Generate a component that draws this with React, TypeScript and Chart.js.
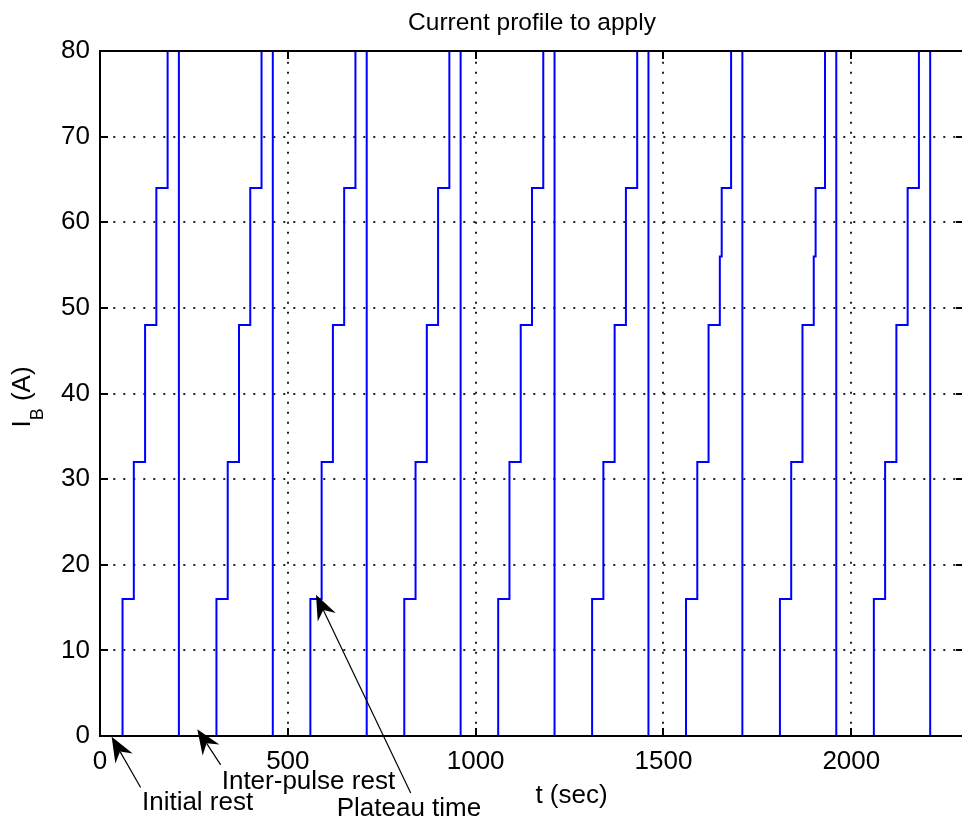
import React, { useEffect, useRef } from "react";
import { Chart, registerables } from "chart.js";

Chart.register(...registerables);

const FONT = '"Liberation Sans", Arial, Helvetica, sans-serif';

// Breakpoints of the applied current profile (stairs: value holds until the next time)
const stepTimes = [
  0,
  60, 90, 120, 150, 180, 210,
  310, 340, 370, 400, 430, 460,
  560, 590, 620, 650, 680, 710,
  810, 840, 870, 900, 930, 960,
  1060, 1090, 1120, 1150, 1180, 1210,
  1310, 1340, 1370, 1400, 1430, 1460,
  1560, 1590, 1620, 1650, 1655, 1680, 1710,
  1810, 1840, 1870, 1900, 1905, 1930, 1960,
  2060, 2090, 2120, 2150, 2180, 2210,
  2300,
];
const stepCurrents = [
  0,
  16, 32, 48, 64, 80, 0,
  16, 32, 48, 64, 80, 0,
  16, 32, 48, 64, 80, 0,
  16, 32, 48, 64, 80, 0,
  16, 32, 48, 64, 80, 0,
  16, 32, 48, 64, 80, 0,
  16, 32, 48, 56, 64, 80, 0,
  16, 32, 48, 56, 64, 80, 0,
  16, 32, 48, 64, 80, 0,
  0,
];

const xTicks = [0, 500, 1000, 1500, 2000];
const yTicks = [0, 10, 20, 30, 40, 50, 60, 70, 80];
const xMax = 2300;
const yMax = 80;

const titleText = "Current profile to apply";
const xLabelText = "t (sec)";

// Annotation callouts: arrow tip placed at (time, current)
const noteTexts = ["Initial rest", "Inter-pulse rest", "Plateau time"];
const noteTipTimes = [31, 259, 575];
const noteTipCurrents = [-0.1, 0.8, 16.5];

// Pixel offsets (from the arrow tip) of arrow tails and text anchors
const noteLayout = [
  { tail: [29, 50.7], text: [30.3, 73] },
  { tail: [23.4, 35.7], text: [24.4, 59.5] },
  { tail: [94.7, 198.3], text: [20.7, 221] },
];

const TICK_LEN = 8;

function drawArrow(ctx: CanvasRenderingContext2D, tipX: number, tipY: number, tailX: number, tailY: number) {
  const dx = tailX - tipX;
  const dy = tailY - tipY;
  const len = Math.hypot(dx, dy);
  const ux = dx / len;
  const uy = dy / len;
  const nx = -uy;
  const ny = ux;
  const L = 25;
  const W = 10;
  const N = 17;
  ctx.lineWidth = 1.2;
  ctx.beginPath();
  ctx.moveTo(tailX, tailY);
  ctx.lineTo(tipX + ux * N, tipY + uy * N);
  ctx.stroke();
  ctx.beginPath();
  ctx.moveTo(tipX, tipY);
  ctx.lineTo(tipX + ux * L + nx * W, tipY + uy * L + ny * W);
  ctx.lineTo(tipX + ux * N, tipY + uy * N);
  ctx.lineTo(tipX + ux * L - nx * W, tipY + uy * L - ny * W);
  ctx.closePath();
  ctx.fill();
}

const matlabAxes = {
  id: "matlabAxes",
  afterDatasetsDraw(chart: any) {
    const { ctx, chartArea: a, scales } = chart;
    const xs = scales.x;
    const ys = scales.y;
    ctx.save();
    ctx.strokeStyle = "#000";
    ctx.fillStyle = "#000";

    // axes box
    ctx.lineWidth = 2;
    ctx.strokeRect(a.left, a.top, a.right - a.left, a.bottom - a.top);

    // inward tick marks on all four sides
    ctx.beginPath();
    for (const t of xs.ticks) {
      const px = Math.round(xs.getPixelForValue(t.value));
      ctx.moveTo(px, a.bottom);
      ctx.lineTo(px, a.bottom - TICK_LEN);
      ctx.moveTo(px, a.top);
      ctx.lineTo(px, a.top + TICK_LEN);
    }
    for (const t of ys.ticks) {
      const py = Math.round(ys.getPixelForValue(t.value));
      ctx.moveTo(a.left, py);
      ctx.lineTo(a.left + TICK_LEN, py);
      ctx.moveTo(a.right, py);
      ctx.lineTo(a.right - TICK_LEN, py);
    }
    ctx.stroke();

    // x label
    ctx.font = `26px ${FONT}`;
    ctx.textAlign = "center";
    ctx.textBaseline = "alphabetic";
    ctx.fillText(xLabelText, a.left + 471.5, 803);

    // y label: I with subscript B
    ctx.save();
    ctx.translate(30, (a.top + a.bottom) / 2 + 3.5);
    ctx.rotate(-Math.PI / 2);
    ctx.textAlign = "left";
    const big = `26px ${FONT}`;
    const small = `18px ${FONT}`;
    ctx.font = big;
    const wI = ctx.measureText("I").width;
    const wRest = ctx.measureText(" (A)").width;
    ctx.font = small;
    const wB = ctx.measureText("B").width;
    const x0 = -(wI + wB + wRest) / 2;
    ctx.font = big;
    ctx.fillText("I", x0, 0);
    ctx.font = small;
    ctx.fillText("B", x0 + wI, 13);
    ctx.font = big;
    ctx.fillText(" (A)", x0 + wI + wB, 0);
    ctx.restore();

    // callouts
    ctx.font = `26px ${FONT}`;
    ctx.textAlign = "left";
    noteTexts.forEach((txt, i) => {
      const tipX = xs.getPixelForValue(noteTipTimes[i]);
      const tipY = ys.getPixelForValue(noteTipCurrents[i]);
      const lay = noteLayout[i];
      drawArrow(ctx, tipX, tipY, tipX + lay.tail[0], tipY + lay.tail[1]);
      ctx.fillText(txt, tipX + lay.text[0], tipY + lay.text[1]);
    });

    ctx.restore();
  },
};

export default function App() {
  const ref = useRef<HTMLCanvasElement>(null);

  useEffect(() => {
    const canvas = ref.current;
    if (!canvas) return;
    const tickFont = { family: FONT, size: 26, weight: "normal" as const };
    const chart = new Chart(canvas, {
      type: "line",
      data: {
        datasets: [
          {
            data: stepTimes.map((t, i) => ({ x: t, y: stepCurrents[i] })),
            borderColor: "#0000ff",
            borderWidth: 2,
            pointRadius: 0,
            stepped: true,
            fill: false,
          },
        ],
      },
      options: {
        animation: false,
        responsive: false,
        devicePixelRatio: 1,
        events: [],
        layout: { padding: { left: 0, right: 2, top: 0, bottom: 0 } },
        plugins: {
          legend: { display: false },
          tooltip: { enabled: false },
          title: {
            display: true,
            fullSize: false,
            text: titleText,
            color: "#000",
            font: { family: FONT, size: 24.5, weight: "normal" },
            padding: { top: 8.5, bottom: 51 - 8.5 - 24.5 * 1.2 },
          },
        },
        scales: {
          x: {
            type: "linear",
            min: 0,
            max: xMax,
            afterBuildTicks: (s: any) => {
              s.ticks = xTicks.map((v) => ({ value: v }));
            },
            ticks: {
              autoSkip: false,
              maxRotation: 0,
              color: "#000",
              font: tickFont,
              padding: 10,
              callback: (v: any) => String(v),
            },
            grid: { color: "#222", lineWidth: 2, drawTicks: false },
            border: { display: false, dash: [2, 8], dashOffset: 9.3 },
            afterFit: (s: any) => {
              s.height = 83;
            },
          },
          y: {
            type: "linear",
            min: 0,
            max: yMax,
            afterBuildTicks: (s: any) => {
              s.ticks = yTicks.map((v) => ({ value: v }));
            },
            ticks: {
              autoSkip: false,
              color: "#000",
              font: tickFont,
              padding: 10,
              callback: (v: any) => String(v),
            },
            grid: { color: "#222", lineWidth: 2, drawTicks: false },
            border: { display: false, dash: [2, 8], dashOffset: 6.7 },
            afterFit: (s: any) => {
              s.width = 100;
            },
          },
        },
      },
      plugins: [matlabAxes],
    });
    return () => chart.destroy();
  }, []);

  return (
    <div
      style={{
        position: "fixed",
        left: 0,
        top: 0,
        width: 962,
        height: 819,
        overflow: "hidden",
        background: "#fff",
      }}
    >
      <canvas ref={ref} width={966} height={819} style={{ display: "block", width: 966, height: 819 }} />
    </div>
  );
}
